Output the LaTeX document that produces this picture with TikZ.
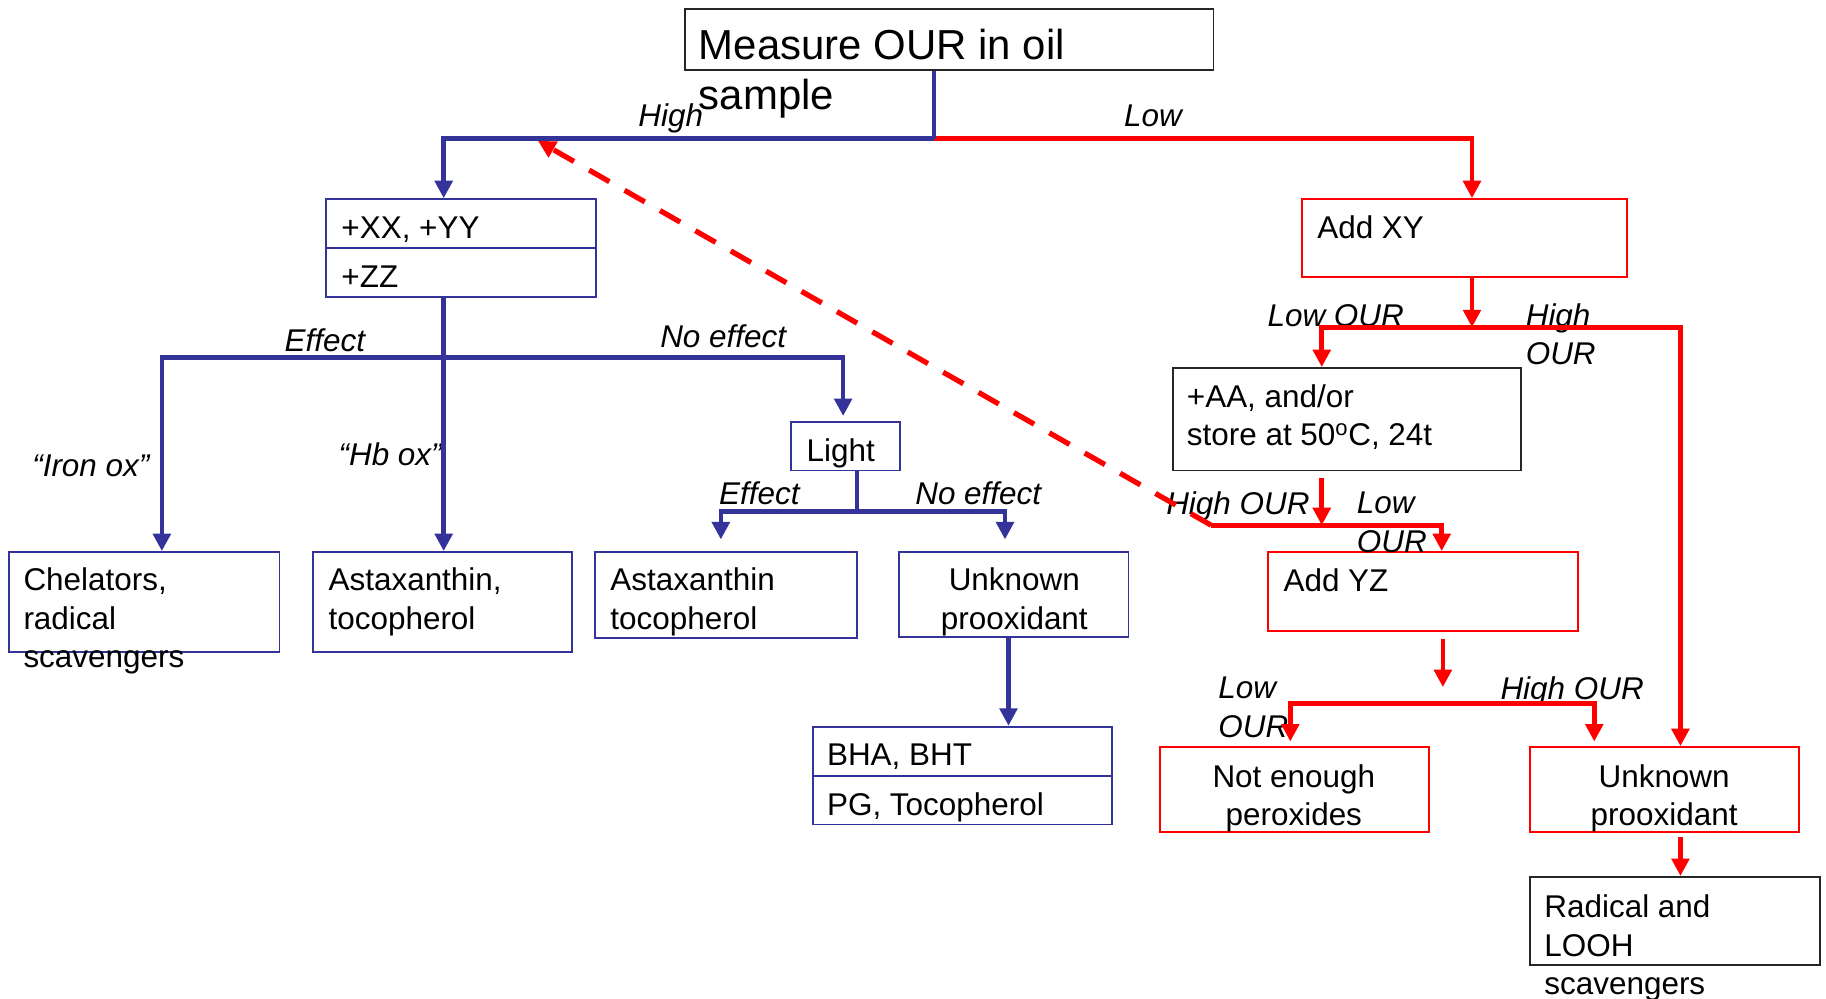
\documentclass[tikz,border=0pt]{standalone}
\usepackage{fontspec}
\setmainfont{Liberation Sans}
\usetikzlibrary{arrows.meta}
\definecolor{ourblue}{RGB}{51,51,153}
\definecolor{ourred}{RGB}{255,0,0}
\newcommand{\boxfont}{\fontsize{27pt}{33pt}\selectfont}

\begin{document}
\begin{tikzpicture}[x=1pt,y=-1pt]
\tikzstyle{every node}+=[inner sep=0pt]
\tikzstyle{bluebox}=[draw=ourblue,line width=1.6pt]
\tikzstyle{redbox}=[draw=ourred,line width=1.6pt]
\tikzstyle{blackbox}=[draw=black!85,line width=1.6pt]
\tikzstyle{txt}=[font=\boxfont,align=left]
\tikzstyle{lbl}=[font=\boxfont\itshape,align=left]
\tikzstyle{bline}=[draw=ourblue,line width=4pt]
\tikzstyle{rline}=[draw=ourred,line width=4pt]
\tikzstyle{arr}=[-{Triangle[width=15pt,length=15pt]}]
\useasboundingbox (0,0) rectangle (1568,857);
% boxes
\node [blackbox,minimum width=454pt,minimum height=52pt] (measure) at (815,34) {};
\node [bluebox,minimum width=232pt,minimum height=42pt] (xxyy) at (396,192) {};
\node [bluebox,minimum width=232pt,minimum height=42pt] (zz) at (396,234) {};
\node [bluebox,minimum width=94pt,minimum height=42pt] (light) at (726,383) {};
\node [bluebox,minimum width=232pt,minimum height=86pt] (chel) at (124,517) {};
\node [bluebox,minimum width=222pt,minimum height=86pt] (astaxa) at (380,517) {};
\node [bluebox,minimum width=225pt,minimum height=74pt] (astaxb) at (623.5,511) {};
\node [bluebox,minimum width=197pt,minimum height=73pt] (unkblue) at (870.5,510.5) {};
\node [bluebox,minimum width=257pt,minimum height=42pt] (bha) at (826.5,645) {};
\node [bluebox,minimum width=257pt,minimum height=42pt] (pg) at (826.5,687) {};
\node [redbox,minimum width=279pt,minimum height=67pt] (addxy) at (1257.5,204.5) {};
\node [blackbox,minimum width=299pt,minimum height=88pt] (aa) at (1156.5,360) {};
\node [redbox,minimum width=266pt,minimum height=68pt] (addyz) at (1222,508) {};
\node [redbox,minimum width=231pt,minimum height=73pt] (notenough) at (1111.5,678) {};
\node [redbox,minimum width=231pt,minimum height=73pt] (unkred) at (1429,678) {};
\node [blackbox,minimum width=249pt,minimum height=76pt] (radical) at (1438,791) {};
% box texts
\node [anchor=north west,align=left,font=\fontsize{36pt}{43pt}\selectfont] (measuretxt) at (600,25) {Measure OUR in oil\\sample};
\node [txt,anchor=base west] (xxyytxt) at (293,205) {+XX, +YY};
\node [txt,anchor=base west] (zztxt) at (293,247) {+ZZ};
\node [txt,anchor=base] (lighttxt) at (722,396) {Light};
\node [txt,anchor=north west] (cheltxt) at (20,487.7) {Chelators,\\radical\\scavengers};
\node [txt,anchor=north west] (astaxatxt) at (282,487.7) {Astaxanthin,\\tocopherol};
\node [txt,anchor=north west] (astaxbtxt) at (524,487.7) {Astaxanthin\\tocopherol};
\node [txt,anchor=north,align=center] (unkbluetxt) at (871,487.7) {Unknown\\prooxidant};
\node [txt,anchor=base west] (bhatxt) at (710,657) {BHA, BHT};
\node [txt,anchor=base west] (pgtxt) at (710,700) {PG, Tocopherol};
\node [txt,anchor=base west] (addxytxt) at (1131,205) {Add XY};
\node [txt,anchor=north west] (aatxt) at (1019,330) {+AA, and/or\\store at 50\textsuperscript{o}C, 24t};
\node [txt,anchor=base west] (addyztxt) at (1102,508) {Add YZ};
\node [txt,anchor=north,align=center] (notenoughtxt) at (1111,656.4) {Not enough\\peroxides};
\node [txt,anchor=north,align=center] (unkredtxt) at (1429,656.4) {Unknown\\prooxidant};
\node [txt,anchor=north west] (radicaltxt) at (1326,768.4) {Radical and\\LOOH\\scavengers};
% labels
\node [lbl,anchor=base] (lhigh) at (576,109) {High};
\node [lbl,anchor=base] (llow) at (990,109) {Low};
\node [lbl,anchor=base] (leffa) at (279,302) {Effect};
\node [lbl,anchor=base] (lnoeffa) at (621,298) {No effect};
\node [lbl,anchor=base] (liron) at (78,409) {“Iron ox”};
\node [lbl,anchor=base] (lhb) at (335,399.5) {“Hb ox”};
\node [lbl,anchor=base] (leffb) at (652,433) {Effect};
\node [lbl,anchor=base] (lnoeffb) at (840,433) {No effect};
\node [lbl,anchor=base] (llowoura) at (1147,280) {Low OUR};
\node [lbl,anchor=north west] (lhighoura) at (1310,260.4) {High\\OUR};
\node [lbl,anchor=base] (lhighourb) at (1063,442) {High OUR};
\node [lbl,anchor=north west] (llowourb) at (1165,422.3) {Low\\OUR};
\node [lbl,anchor=north west] (llowourc) at (1046,581.4) {Low\\OUR};
\node [lbl,anchor=base] (lhighourc) at (1350,601) {High OUR};
% split points
\coordinate (split) at (802,119);
\coordinate (effsplit) at (381,307);
\coordinate (lightsplit) at (736,439);
\coordinate (xysplit) at (1264,281);
\coordinate (aasplit) at (1135,451);
\coordinate (loopback) at (1040,451);
\coordinate (loopend) at (462,121);
\coordinate (yzsplit) at (1239,604);
% low branch
\draw [rline,arr] (split) -| (xysplit |- addxy.north);
\draw [rline,arr] (addxy.south -| xysplit) -- (xysplit);
\draw [rline,arr] (xysplit) -| (aasplit |- aa.north);
\draw [rline,arr] (xysplit) -| ([xshift=14pt]unkred.north);
\draw [rline,arr,shorten <=6pt] (aa.south -| aasplit) -- (aasplit);
\draw [rline,arr] (loopback) -| ([xshift=16pt]addyz.north);
\draw [rline,arr,line width=4.5pt,dash pattern=on 20pt off 15pt] (loopback) -- (loopend);
\draw [rline,arr,shorten <=6pt,shorten >=14pt] (addyz.south -| yzsplit) -- (yzsplit);
\draw [rline,arr,shorten >=4pt] (yzsplit) -| ([xshift=-3.5pt]notenough.north);
\draw [rline,arr,shorten >=4pt] (yzsplit) -| ([xshift=-60pt]unkred.north);
\draw [rline,arr,shorten <=3pt] ([xshift=14pt]unkred.south) -- ([xshift=5pt]radical.north);
% high branch
\draw [bline] (measure.south -| split) -- (split);
\draw [bline,arr] (split) -| (effsplit |- xxyy.north);
\draw [bline] (zz.south -| effsplit) -- (effsplit);
\draw [bline,arr] (effsplit) -- (effsplit |- astaxa.north);
\draw [bline,arr] (effsplit) -| ([xshift=15pt]chel.north);
\draw [bline,arr,shorten >=4pt] (effsplit) -| ([xshift=-2pt]light.north);
\draw [bline] (light.south -| lightsplit) -- (lightsplit);
\draw [bline,arr,shorten >=10pt] (lightsplit) -| ([xshift=-4.5pt]astaxb.north);
\draw [bline,arr,shorten >=10pt] (lightsplit) -| ([xshift=-7.5pt]unkblue.north);
\draw [bline,arr] ([xshift=-4.5pt]unkblue.south) -- ([xshift=39.5pt]bha.north);
\end{tikzpicture}
\end{document}
